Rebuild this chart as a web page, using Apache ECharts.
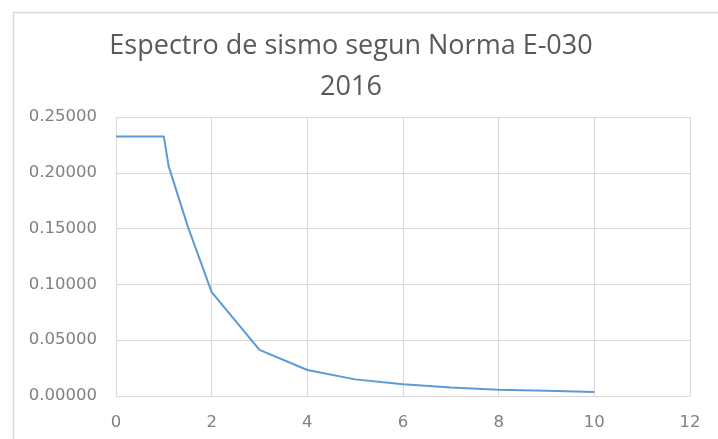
<!DOCTYPE html>
<html><head><meta charset="utf-8">
<script src="https://cdn.jsdelivr.net/npm/echarts@6/dist/echarts.min.js"></script>
<style>html,body{margin:0;padding:0;background:#fff}#c{width:718px;height:439px}</style>
</head><body><div id="c"></div>
<script>
const titleLines = ['Espectro de sismo segun Norma E-030', '2016'];
const periods = [0, 1, 1.1, 1.5, 2, 3, 4, 5, 6, 7, 8, 9, 10];
const saValues = [0.2326, 0.2326, 0.2060, 0.1520, 0.0930, 0.0413, 0.0233, 0.0149, 0.0105, 0.0076, 0.0057, 0.0047, 0.0035];
const xTicks = [0, 2, 4, 6, 8, 10, 12];
const yTicks = [0, 0.05, 0.10, 0.15, 0.20, 0.25];

const chart = echarts.init(document.getElementById('c'), null, {renderer: 'canvas'});
chart.setOption({
  animation: false,
  backgroundColor: '#fff',
  graphic: [{
    type: 'rect', left: 11, top: 10, silent: true,
    shape: {width: 760, height: 480},
    style: {fill: 'none', stroke: '#d9d9d9', lineWidth: 1.5}
  }],
  title: {
    text: titleLines.join('\n'),
    left: 346, top: 21, textAlign: 'center',
    textStyle: {fontFamily: 'Open Sans', fontSize: 27, fontWeight: 'normal', color: '#595959', lineHeight: 41}
  },
  grid: {left: 116, right: 28, top: 117, bottom: 43, containLabel: false},
  xAxis: {
    type: 'value', min: xTicks[0], max: xTicks[xTicks.length - 1], interval: 2,
    axisLine: {show: true, lineStyle: {color: '#d9d9d9'}},
    axisTick: {show: false},
    splitLine: {show: true, lineStyle: {color: '#d9d9d9', width: 1}},
    axisLabel: {color: '#808080', fontFamily: 'DejaVu Sans', fontSize: 16.5, margin: 18}
  },
  yAxis: {
    type: 'value', min: yTicks[0], max: yTicks[yTicks.length - 1], interval: 0.05,
    axisLine: {show: true, lineStyle: {color: '#d9d9d9'}},
    axisTick: {show: false},
    splitLine: {show: true, lineStyle: {color: '#d9d9d9', width: 1}},
    axisLabel: {color: '#808080', fontFamily: 'DejaVu Sans', fontSize: 16.5, margin: 19,
      formatter: v => v.toFixed(5)}
  },
  series: [{
    type: 'line',
    data: periods.map((t, i) => [t, saValues[i]]),
    showSymbol: false,
    lineStyle: {color: '#5b9bd5', width: 2},
    itemStyle: {color: '#5b9bd5'}
  }]
});
</script></body></html>
